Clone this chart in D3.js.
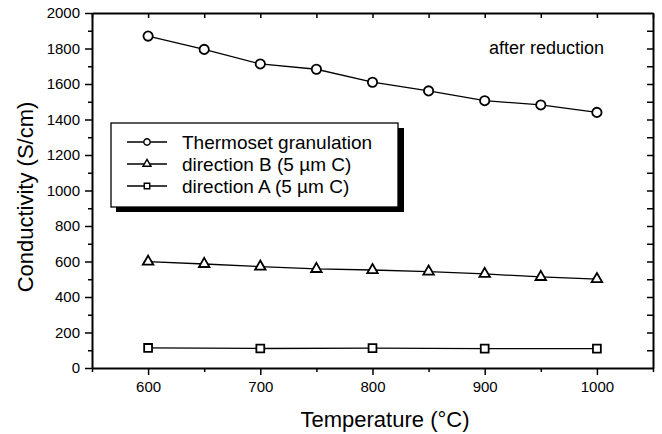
<!DOCTYPE html>
<meta charset="utf-8">
<script src="https://d3js.org/d3.v7.min.js"></script>
<style>
  body { margin: 0; background: white; }
  text { font-family: "Liberation Sans", Arial, sans-serif; fill: black; }
</style>
<div id="chart"></div>
<script>
  // data
  const temps = [600, 650, 700, 750, 800, 850, 900, 950, 1000];
  const thermoset = [1870, 1795, 1713, 1683, 1610, 1561, 1506, 1482, 1440];
  const dirB = [599, 586, 571, 558, 552, 543, 530, 513, 501];
  const tempsA = [600, 700, 800, 900, 1000];
  const dirA = [113, 110, 112, 109, 109];

  const xTicks = [600, 700, 800, 900, 1000];
  const yTicks = [0, 200, 400, 600, 800, 1000, 1200, 1400, 1600, 1800, 2000];
  const legendLabels = ["Thermoset granulation", "direction B (5  \u00b5m C)", "direction A (5  \u00b5m C)"];

  const W = 662, H = 434;
  const margin = { top: 13, right: 9, bottom: 66, left: 92 };

  const svg = d3.select("#chart").append("svg")
    .attr("width", W)
    .attr("height", H);

  const x = d3.scaleLinear().domain([550, 1050]).range([margin.left, W - margin.right]);
  const y = d3.scaleLinear().domain([0, 2000]).range([H - margin.bottom, margin.top]);

  const minorX = d3.range(550, 1051, 50).filter(d => d % 100 !== 0);
  const minorY = d3.range(100, 2000, 200);

  // axes
  function styleAxis(g) {
    g.select(".domain").attr("stroke-width", 2);
    g.selectAll(".tick line").attr("stroke-width", 1.5);
  }

  svg.append("g")
    .attr("transform", `translate(0,${y(0)})`)
    .call(d3.axisBottom(x).tickValues(xTicks).tickSize(7).tickSizeOuter(0).tickPadding(6).tickFormat(d3.format("d")))
    .call(styleAxis)
    .call(g => g.selectAll(".tick text").attr("font-size", 15).attr("font-family", "Liberation Sans, Arial"));
  svg.append("g")
    .attr("transform", `translate(0,${y(0)})`)
    .call(d3.axisBottom(x).tickValues(minorX).tickSize(4).tickFormat(""))
    .call(g => g.select(".domain").remove())
    .call(g => g.selectAll(".tick line").attr("stroke-width", 1.5));

  svg.append("g")
    .attr("transform", `translate(${x(550)},0)`)
    .call(d3.axisLeft(y).tickValues(yTicks).tickSize(7).tickSizeOuter(0).tickPadding(5).tickFormat(d3.format("d")))
    .call(styleAxis)
    .call(g => g.selectAll(".tick text").attr("font-size", 15).attr("font-family", "Liberation Sans, Arial"));
  svg.append("g")
    .attr("transform", `translate(${x(550)},0)`)
    .call(d3.axisLeft(y).tickValues(minorY).tickSize(4).tickFormat(""))
    .call(g => g.select(".domain").remove())
    .call(g => g.selectAll(".tick line").attr("stroke-width", 1.5));

  // top and right, ticks pointing in
  svg.append("g")
    .attr("transform", `translate(0,${y(2000)})`)
    .call(d3.axisBottom(x).tickValues(xTicks.concat(minorX)).tickSize(5).tickSizeOuter(0).tickFormat(""))
    .call(styleAxis);
  svg.append("g")
    .attr("transform", `translate(${x(1050)},0)`)
    .call(d3.axisLeft(y).tickValues(yTicks.slice(1, -1).concat(minorY)).tickSize(6).tickSizeOuter(0).tickFormat(""))
    .call(styleAxis);

  // axis titles
  svg.append("text")
    .attr("x", 385)
    .attr("y", 427)
    .attr("text-anchor", "middle")
    .attr("font-size", 22)
    .text("Temperature (\u00b0C)");

  svg.append("text")
    .attr("transform", `translate(33,197) rotate(-90)`)
    .attr("text-anchor", "middle")
    .attr("font-size", 22)
    .text("Conductivity (S/cm)");

  svg.append("text")
    .attr("x", 604)
    .attr("y", 48)
    .attr("dy", "0.35em")
    .attr("text-anchor", "end")
    .attr("font-size", 18)
    .text("after reduction");

  // series
  const series = [
    { t: temps, v: thermoset, sym: d3.symbolCircle, size: 68, lsize: 32 },
    { t: temps, v: dirB, sym: d3.symbolTriangle, size: 48, lsize: 28 },
    { t: tempsA, v: dirA, sym: d3.symbolSquare, size: 62, lsize: 30 }
  ];

  const line = d3.line().x(d => x(d[0])).y(d => y(d[1]));

  series.forEach(s => {
    const pts = s.t.map((t, i) => [t, s.v[i]]);
    svg.append("path")
      .datum(pts)
      .attr("d", line)
      .attr("fill", "none")
      .attr("stroke", "black")
      .attr("stroke-width", 1.3);
    svg.append("g")
      .selectAll("path")
      .data(pts)
      .join("path")
      .attr("transform", d => `translate(${x(d[0])},${y(d[1])})`)
      .attr("d", d3.symbol().type(s.sym).size(s.size))
      .attr("fill", "white")
      .attr("stroke", "black")
      .attr("stroke-width", 1.8);
  });

  // legend with drop shadow
  const lg = svg.append("g");
  lg.append("rect")
    .attr("x", 116).attr("y", 128).attr("width", 288).attr("height", 84)
    .attr("fill", "black");
  lg.append("rect")
    .attr("x", 111).attr("y", 123).attr("width", 287).attr("height", 84)
    .attr("fill", "white").attr("stroke", "black").attr("stroke-width", 1.3);

  legendLabels.forEach((lab, i) => {
    const ly = 142 + i * 22;
    lg.append("line")
      .attr("x1", 127).attr("x2", 167).attr("y1", ly).attr("y2", ly)
      .attr("stroke", "black").attr("stroke-width", 1.3);
    lg.append("path")
      .attr("transform", `translate(147,${ly})`)
      .attr("d", d3.symbol().type(series[i].sym).size(series[i].lsize))
      .attr("fill", "white").attr("stroke", "black").attr("stroke-width", 1.4);
    lg.append("text")
      .attr("x", 182).attr("y", ly)
      .attr("dy", "0.35em")
      .attr("font-size", 19)
      .text(lab);
  });
</script>
